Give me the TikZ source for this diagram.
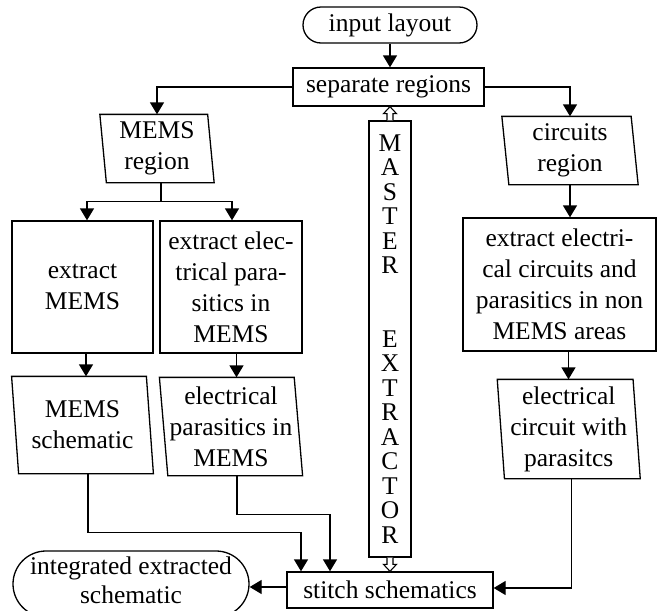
\documentclass[tikz,border=0pt]{standalone}
\usepackage{fontspec}
\setmainfont{Liberation Serif}
\usetikzlibrary{arrows.meta,shapes.misc,calc}
\newcommand\dfont{\fontsize{25.5}{31}\selectfont}
\newcommand\mfont{\fontsize{25.5}{24.5}\selectfont}
\newcommand\ifont{\fontsize{25.5}{29}\selectfont}
\newcommand\paral[2]{\draw[line width=1.3pt] ([xshift=-#2]#1.north west) -- ([xshift=-#2]#1.north east) -- ([xshift=#2]#1.south east) -- ([xshift=#2]#1.south west) -- cycle;}
\tikzset{
  base/.style={font=\dfont, align=center, inner sep=0pt, line width=1.3pt, rectangle},
  box/.style={base, draw},
  ghost/.style={base},
  pill/.style={base, draw, rounded rectangle},
  line/.style={line width=1.3pt},
  conn/.style={line width=1.3pt, -{Triangle[width=14pt,length=12pt]}},
  hollow/.style={line width=1.1pt, fill=white, line join=miter},
}
\begin{document}
\begin{tikzpicture}[x=1pt,y=-1pt]
\useasboundingbox (0,0) rectangle (657,611);
% nodes
\node[pill, minimum width=174pt, minimum height=36pt] (inp) at (390,25) {input layout};
\node[box, minimum width=191pt, minimum height=38pt] (sep) at (388.5,87) {separate regions};
\node[ghost, minimum width=106.5pt, minimum height=67pt] (memsreg) at (157,148.5) {MEMS\\region};
\paral{memsreg}{3.25pt}
\node[ghost, minimum width=128pt, minimum height=67pt] (circreg) at (570,150.5) {circuits\\region};
\paral{circreg}{3.5pt}
\node[box, minimum width=141pt, minimum height=132pt] (exm) at (82.5,287) {extract\\MEMS};
\node[box, minimum width=142pt, minimum height=132pt] (exe) at (231,287) {extract elec-\\trical para-\\sitics in\\MEMS};
\node[box, minimum width=193pt, minimum height=133pt] (exc) at (559.5,284.5) {extract electri-\\cal circuits and\\parasitics in non\\MEMS areas};
\node[ghost, minimum width=133.5pt, minimum height=96pt] (memssch) at (82.5,425) {MEMS\\schematic};
\paral{memssch}{3.5pt}
\node[ghost, minimum width=133.5pt, minimum height=97pt] (elpar) at (231,426.5) {electrical\\parasitics in\\MEMS};
\paral{elpar}{4.2pt}
\node[ghost, minimum width=134.5pt, minimum height=98pt] (elcir) at (568.75,429) {electrical\\circuit with\\parasitcs};
\paral{elcir}{3.6pt}
\node[box, font=\mfont, minimum width=42pt, minimum height=436pt] (master) at (390,339) {M\\A\\S\\T\\E\\R\\[49pt]E\\X\\T\\R\\A\\C\\T\\O\\R};
\node[box, minimum width=206pt, minimum height=36pt] (stitch) at (390,590) {stitch schematics};
\node[pill, minimum width=236pt, minimum height=66pt] (integ) at (131,584) {};
\node[ghost, font=\ifont] (integtext) at (131,580) {integrated extracted\\schematic};
% connectors
\draw[conn] (inp.south) -- (inp.south |- sep.north);
\draw[conn] (sep.west) -| (memsreg.north);
\draw[conn] (sep.east) -| (circreg.north);
\coordinate (mj) at ([xshift=4pt,yshift=-19pt]memsreg.south);
\draw[line] ([xshift=4pt]memsreg.south) -- (mj);
\draw[conn] (mj) -| ([xshift=4.5pt]exm.north);
\draw[conn] (mj) -| ([xshift=1pt]exe.north);
\draw[conn] (circreg.south) -- (circreg.south |- exc.north);
\draw[conn] ([xshift=3.5pt]exm.south) -- ([xshift=3.5pt]exm.south |- memssch.north);
\draw[conn] ([xshift=5.5pt]exe.south) -- ([xshift=5.5pt]exe.south |- elpar.north);
\draw[conn] ([xshift=9pt]exc.south) -- ([xshift=9pt]exc.south |- elcir.north);
\coordinate (c1) at ([xshift=-89pt,yshift=39pt]stitch.north);
\coordinate (c2) at ([xshift=-60pt,yshift=57pt]stitch.north);
\draw[conn] ([xshift=5.5pt]memssch.south) |- (c1) -- ([xshift=-89pt]stitch.north);
\draw[conn] ([xshift=6pt]elpar.south) |- (c2) -- ([xshift=-60pt]stitch.north);
\draw[conn] ([xshift=3pt]elcir.south) |- ([yshift=2pt]stitch.east);
\draw[conn] ([yshift=3pt]stitch.west) -- ([yshift=3pt]stitch.west -| integ.east);
% hollow arrows between master and sep / stitch
\draw[hollow] let \p1=(master.north), \p2=(sep.south) in
  (\x1-3pt,\y1) -- (\x1-3pt,\y2-7pt) -- (\x1-6.5pt,\y2-7pt) -- (\x1,\y2) -- (\x1+6.5pt,\y2-7pt) -- (\x1+3pt,\y2-7pt) -- (\x1+3pt,\y1);
\draw[hollow] let \p1=(master.south), \p2=(stitch.north) in
  (\x1-3pt,\y1) -- (\x1-3pt,\y2+7pt) -- (\x1-6.5pt,\y2+7pt) -- (\x1,\y2) -- (\x1+6.5pt,\y2+7pt) -- (\x1+3pt,\y2+7pt) -- (\x1+3pt,\y1);
\end{tikzpicture}
\end{document}
